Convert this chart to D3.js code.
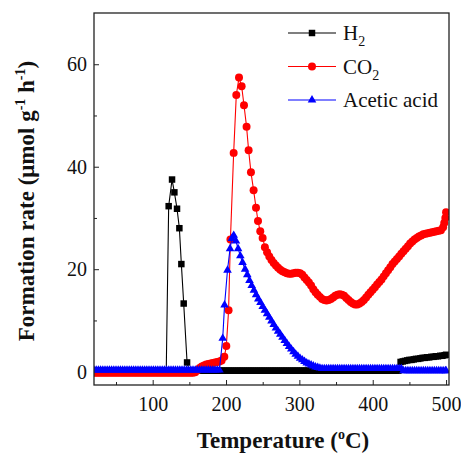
<!DOCTYPE html>
<html><head><meta charset="utf-8">
<script src="https://cdn.jsdelivr.net/npm/d3@7"></script>
<style>body{margin:0;background:#fff} svg{display:block}</style>
</head><body>
<svg id="chart" width="461" height="454"></svg>
<script>
// ---- axis ticks ----
const xTicks = [100, 200, 300, 400, 500];
const xMinorTicks = [50, 150, 250, 350, 450];
const yTicks = [0, 20, 40, 60];
const yMinorTicks = [10, 30, 50];

// ---- H2 ----
const h2Temp = [
  20,23,26,29,32,35,38,41,44,47,50,53,
  56,59,62,65,68,71,74,77,80,83,86,89,
  92,95,98,101,104,107,110,113,116,
  118.5,121.8,126.4,129.6,133.2,136.4,139.1,142.3,146.9,
  150,153,156,159,162,165,168,171,174,177,180,183,
  186,189,192,195,198,201,204,207,210,213,216,219,
  222,225,228,231,234,237,240,243,246,249,252,255,
  258,261,264,267,270,273,276,279,282,285,288,291,
  294,297,300,303,306,309,312,315,318,321,324,327,
  330,333,336,339,342,345,348,351,354,357,360,363,
  366,369,372,375,378,381,384,387,390,393,396,399,
  402,405,408,411,414,417,420,423,426,429,432,435,
  438,441,444,447,450,453,456,459,462,465,468,471,
  474,477,480,483,486,489,492,495,498,500
];
const h2Rate = [
  0.2,0.2,0.2,0.2,0.2,0.2,0.2,0.2,0.2,0.2,0.2,0.2,
  0.2,0.2,0.2,0.2,0.2,0.2,0.2,0.2,0.2,0.2,0.2,0.2,
  0.2,0.2,0.2,0.2,0.2,0.2,0.2,0.2,0.2,
  0.2,32.3,37.5,35.0,31.8,28.0,21.0,13.3,1.8,
  0.2,0.2,0.2,0.2,0.2,0.2,0.2,0.2,0.2,0.2,0.2,0.2,
  0.2,0.2,0.2,0.2,0.2,0.2,0.2,0.2,0.2,0.2,0.2,0.2,
  0.2,0.2,0.2,0.2,0.2,0.2,0.2,0.2,0.2,0.2,0.2,0.2,
  0.2,0.2,0.2,0.2,0.2,0.2,0.2,0.2,0.2,0.2,0.2,0.2,
  0.2,0.2,0.2,0.2,0.2,0.2,0.2,0.2,0.2,0.2,0.2,0.2,
  0.2,0.2,0.2,0.2,0.2,0.2,0.2,0.2,0.2,0.2,0.2,0.2,
  0.2,0.2,0.2,0.2,0.2,0.2,0.2,0.2,0.2,0.2,0.2,0.2,
  0.2,0.2,0.2,0.2,0.2,0.2,0.2,0.2,0.2,0.2,0.2,0.2,
  1.9,2.0,2.1,2.2,2.3,2.3,2.4,2.5,2.5,2.6,2.7,2.7,
  2.8,2.8,2.9,2.9,3.0,3.0,3.1,3.1,3.2,3.3
];

// ---- CO2 ----
const co2Temp = [
  20,23,26,29,32,35,38,41,44,47,50,53,
  56,59,62,65,68,71,74,77,80,83,86,89,
  92,95,98,101,104,107,110,113,116,119,122,125,
  128,131,134,137,140,143,146,149,152,155,
  158,161,164,167,170,173,176,179,182,185,188,191,194,197.7,
  200.4,203.5,206,210.4,214,217.7,221.3,224.5,228,230.8,234,237.6,240.9,243.6,246.7,249.9,
  253,256,259,262,265,268,271,274,277,280,283,286,
  289,292,295,298,301,304,307,310,313,316,319,322,
  325,328,331,334,337,340,343,346,349,352,355,358,
  361,364,367,370,373,376,379,382,385,388,391,394,
  397,400,403,406,409,412,415,418,421,424,427,430,
  433,436,439,442,445,448,451,454,457,460,463,466,
  469,472,475,478,481,484,487,490,493,
  496,497.5,499,500
];
const co2Rate = [
  -0.2,-0.2,-0.2,-0.2,-0.2,-0.2,-0.2,-0.2,-0.2,-0.2,-0.2,-0.2,
  -0.2,-0.2,-0.2,-0.2,-0.2,-0.2,-0.2,-0.2,-0.2,-0.2,-0.2,-0.2,
  -0.2,-0.2,-0.2,-0.2,-0.2,-0.2,-0.2,-0.2,-0.2,-0.2,-0.2,-0.2,
  -0.2,-0.2,-0.2,-0.2,-0.2,-0.2,-0.2,-0.2,-0.2,-0.2,
  -0.1,0.3,0.7,1.0,1.2,1.4,1.5,1.6,1.7,1.8,1.9,2.0,2.2,2.9,
  5.0,12.0,25.8,42.7,54.0,57.4,55.7,52.0,47.8,43.2,38.9,35.4,32.0,29.4,27.4,26.1,
  24.3,23.3,22.5,21.8,21.2,20.7,20.3,19.9,19.6,19.4,19.2,19.1,
  19.1,19.2,19.3,19.3,19.2,18.9,18.4,17.9,17.4,16.8,16.1,15.5,
  15.0,14.6,14.2,14.0,13.9,14.0,14.2,14.5,14.8,15.0,15.1,15.0,
  14.8,14.4,14.0,13.6,13.3,13.1,13.1,13.3,13.6,14.0,14.5,15.0,
  15.5,16.0,16.5,17.0,17.5,18.0,18.6,19.2,19.8,20.4,21.0,21.5,
  22.0,22.5,23.0,23.5,24.0,24.5,25.0,25.4,25.8,26.1,26.4,26.6,
  26.8,26.9,27.0,27.1,27.2,27.3,27.4,27.5,27.6,
  28.2,29.0,30.0,31.1
];

// ---- Acetic acid ----
const acTemp = [
  20,23,26,29,32,35,38,41,44,47,50,53,
  56,59,62,65,68,71,74,77,80,83,86,89,
  92,95,98,101,104,107,110,113,116,119,122,125,
  128,131,134,137,140,143,146,149,152,155,158,161,
  164,167,170,173,176,179,182,185,188,191,
  195.5,198,202,205.5,208,210.5,213.5,216.5,219.5,222.5,
  226,229,232,235,238,241,244,247,250,253,256,259,
  262,265,268,271,274,277,280,283,286,289,292,295,
  298,301,304,307,310,313,316,319,322,325,328,331,334,
  337,340,343,346,349,352,355,358,361,364,367,370,
  373,376,379,382,385,388,391,394,397,400,403,406,
  409,412,415,418,421,424,427,430,433,436,439,
  442,445,448,451,454,457,460,463,466,469,472,475,
  478,481,484,487,490,493,496,499,500
];
const acRate = [
  0.3,0.3,0.3,0.3,0.3,0.3,0.3,0.3,0.3,0.3,0.3,0.3,
  0.3,0.3,0.3,0.3,0.3,0.3,0.3,0.3,0.3,0.3,0.3,0.3,
  0.3,0.3,0.3,0.3,0.3,0.3,0.3,0.3,0.3,0.3,0.3,0.3,
  0.3,0.3,0.3,0.3,0.3,0.3,0.3,0.3,0.3,0.3,0.3,0.3,
  0.3,0.3,0.3,0.3,0.3,0.3,0.3,0.3,0.3,0.3,
  6.5,13.0,19.8,24.0,26.0,26.6,25.5,24.0,22.6,21.3,
  20.0,18.9,17.8,16.8,15.9,15.0,14.2,13.5,12.7,12.0,11.3,10.6,
  9.9,9.2,8.5,7.9,7.3,6.7,6.1,5.5,4.9,4.4,3.9,3.4,
  3.0,2.6,2.3,2.0,1.7,1.5,1.3,1.1,0.9,0.8,0.7,0.6,0.6,
  0.6,0.6,0.6,0.6,0.6,0.6,0.6,0.6,0.6,0.6,0.6,0.6,
  0.6,0.6,0.6,0.6,0.6,0.6,0.6,0.6,0.6,0.6,0.6,0.6,
  0.6,0.6,0.6,0.6,0.6,0.6,0.6,0.6,0.6,0.6,0.6,
  0.2,0.2,0.2,0.2,0.2,0.2,0.2,0.2,0.2,0.2,0.2,0.2,
  0.2,0.2,0.2,0.2,0.2,0.2,0.2,0.2,0.2
];

const seriesNames = ["H2", "CO2", "Acetic acid"];
const seriesColors = ["#000000", "#ff0000", "#0000ff"];

// ---- layout ----
const W = 461, H = 454;
const m = {left: 94, top: 13, right: 12, bottom: 69};
const pw = W - m.left - m.right, ph = H - m.top - m.bottom;
const serif = "'Liberation Serif','Times New Roman',Times,serif";

const svg = d3.select("#chart");
const x = d3.scaleLinear().domain([20, 504]).range([m.left, m.left + pw]);
const y = d3.scaleLinear().domain([-2.6, 70]).range([m.top + ph, m.top]);

svg.append("defs").append("clipPath").attr("id", "plotclip")
  .append("rect").attr("x", m.left).attr("y", m.top).attr("width", pw).attr("height", ph);

// axes
const xAxis = d3.axisBottom(x).tickValues(xTicks).tickSizeInner(-5).tickSizeOuter(0).tickPadding(12);
svg.append("g").attr("transform", `translate(0,${m.top + ph})`).call(xAxis);
const xMinor = d3.axisBottom(x).tickValues(xMinorTicks).tickSizeInner(-3).tickSizeOuter(0).tickFormat("");
svg.append("g").attr("transform", `translate(0,${m.top + ph})`).call(xMinor);

const yAxis = d3.axisLeft(y).tickValues(yTicks).tickSizeInner(-5).tickSizeOuter(0).tickPadding(7);
svg.append("g").attr("transform", `translate(${m.left},0)`).call(yAxis);
const yMinor = d3.axisLeft(y).tickValues(yMinorTicks).tickSizeInner(-3).tickSizeOuter(0).tickFormat("");
svg.append("g").attr("transform", `translate(${m.left},0)`).call(yMinor);

svg.selectAll(".domain").remove();
svg.selectAll(".tick line").attr("stroke", "#222").attr("stroke-width", 1);
svg.selectAll(".tick text").attr("font-family", serif).attr("font-size", 20).attr("fill", "#111");

// series
const series = [
  {temp: h2Temp, rate: h2Rate, color: seriesColors[0], sym: d3.symbolSquare, size: 42},
  {temp: co2Temp, rate: co2Rate, color: seriesColors[1], sym: d3.symbolCircle, size: 50},
  {temp: acTemp, rate: acRate, color: seriesColors[2], sym: d3.symbolTriangle, size: 32}
];
const plot = svg.append("g").attr("clip-path", "url(#plotclip)");
const line = d3.line().x(d => x(d[0])).y(d => y(d[1]));
series.forEach(s => {
  const pts = d3.zip(s.temp, s.rate);
  const g = plot.append("g");
  g.append("path").datum(pts).attr("d", line).attr("fill", "none")
    .attr("stroke", s.color).attr("stroke-width", 1.1);
  g.selectAll("path.pt").data(pts).join("path").attr("class", "pt")
    .attr("transform", d => `translate(${x(d[0])},${y(d[1])})`)
    .attr("d", d3.symbol().type(s.sym).size(s.size)).attr("fill", s.color);
});

// frame
svg.append("rect").attr("x", m.left).attr("y", m.top).attr("width", pw).attr("height", ph)
  .attr("fill", "none").attr("stroke", "#222").attr("stroke-width", 1.3);

// legend
const legRows = [33, 66.5, 100];
const leg = svg.append("g");
series.forEach((s, i) => {
  const ly = legRows[i];
  leg.append("line").attr("x1", 288).attr("x2", 336).attr("y1", ly).attr("y2", ly)
    .attr("stroke", s.color).attr("stroke-width", 1.1);
  leg.append("path").attr("transform", `translate(312,${ly})`)
    .attr("d", d3.symbol().type(s.sym).size(s.size)).attr("fill", s.color);
  const t = leg.append("text").attr("x", 343).attr("y", ly + 7)
    .attr("font-family", serif).attr("font-size", 21).attr("fill", "#111");
  const name = seriesNames[i];
  if (name.endsWith("2")) {
    t.append("tspan").text(name.slice(0, -1));
    t.append("tspan").attr("dy", 6).attr("font-size", 14).text("2");
  } else {
    t.text(name);
  }
});

// axis titles
const xt = svg.append("text").attr("x", 283).attr("y", 448).attr("text-anchor", "middle")
  .attr("font-family", serif).attr("font-size", 23).attr("font-weight", "bold").attr("fill", "#111");
xt.append("tspan").text("Temperature (");
xt.append("tspan").attr("dy", -9).attr("font-size", 14).text("o");
xt.append("tspan").attr("dy", 9).text("C)");

const yt = svg.append("text").attr("transform", "translate(34,201) rotate(-90)").attr("text-anchor", "middle")
  .attr("font-family", serif).attr("font-size", 23).attr("font-weight", "bold").attr("fill", "#111");
yt.append("tspan").text("Formation rate (μmol g");
yt.append("tspan").attr("dy", -9).attr("font-size", 14).text("-1");
yt.append("tspan").attr("dy", 9).text(" h");
yt.append("tspan").attr("dy", -9).attr("font-size", 14).text("-1");
yt.append("tspan").attr("dy", 9).text(")");
</script>
</body></html>
